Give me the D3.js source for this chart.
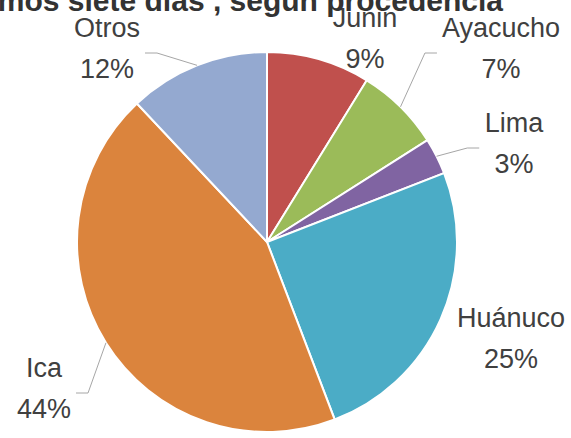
<!DOCTYPE html>
<html>
<head>
<meta charset="utf-8">
<script src="https://cdn.jsdelivr.net/npm/d3@7"></script>
<style>
  body { margin: 0; background: #fff; }
  svg { display: block; }
</style>
</head>
<body>
<div id="chart"></div>
<script>
const categories = ["Junin", "Ayacucho", "Lima", "Huánuco", "Ica", "Otros"];
const values = [8.8, 7.2, 3.1, 25.1, 43.8, 12.0];
const colors = ["#C0504D", "#9BBB59", "#8064A2", "#4BACC6", "#DB843D", "#94A9D0"];
const title = "Casos notificados en los últimos siete días , según procedencia";

// label placement (text centre x, first baseline y, which side the leader leaves from)
const labelLayout = {
    "Junin":    { x: 365, y: 27,  leader: null },
    "Ayacucho": { x: 501, y: 37,  leader: "left" },
    "Lima":     { x: 514, y: 132, leader: "left" },
    "Huánuco":  { x: 511, y: 327, leader: null },
    "Ica":      { x: 44,  y: 377, leader: "right" },
    "Otros":    { x: 107, y: 37,  leader: "right" }
};

const width = 571, height = 438;
const cx = 267, cy = 242, radius = 190;

const svg = d3.select("#chart")
    .append("svg")
    .attr("width", width)
    .attr("height", height);

const data = categories.map((c, i) => ({ name: c, value: values[i], color: colors[i] }));
const total = d3.sum(values);

const pie = d3.pie()
    .value(d => d.value)
    .sort(null);

const arc = d3.arc()
    .innerRadius(0)
    .outerRadius(radius);

const arcs = pie(data);

const g = svg.append("g")
    .attr("transform", `translate(${cx},${cy})`);

g.selectAll("path")
    .data(arcs)
    .enter()
    .append("path")
    .attr("d", arc)
    .attr("fill", d => d.data.color)
    .attr("stroke", "#fff")
    .attr("stroke-width", 2);

const leaders = svg.append("g");

const fmt = v => Math.round(v / total * 100) + "%";

const labels = svg.selectAll("text.label")
    .data(arcs)
    .enter()
    .append("text")
    .attr("class", "label")
    .attr("text-anchor", "middle")
    .attr("font-family", "Liberation Sans, Arial, sans-serif")
    .attr("font-size", "27px")
    .attr("fill", "#404040");

labels.append("tspan")
    .attr("x", d => labelLayout[d.data.name].x)
    .attr("y", d => labelLayout[d.data.name].y)
    .text(d => d.data.name);

labels.append("tspan")
    .attr("x", d => labelLayout[d.data.name].x)
    .attr("y", d => labelLayout[d.data.name].y + 41)
    .text(d => fmt(d.data.value));

// leader lines: short horizontal from the label, then to the slice edge at mid angle
labels.each(function (d) {
    const lay = labelLayout[d.data.name];
    if (!lay.leader) return;
    const half = this.getBBox().width / 2 + 5;
    const mid = (d.startAngle + d.endAngle) / 2;
    const px = cx + Math.sin(mid) * radius;
    const py = cy - Math.cos(mid) * radius;
    const ly = lay.y + 16;
    const edge = lay.leader === "left" ? lay.x - half : lay.x + half;
    const elbow = lay.leader === "left" ? edge - 12 : edge + 12;
    leaders.append("path")
        .attr("d", d3.line()([[edge, ly], [elbow, ly], [px, py]]))
        .attr("fill", "none")
        .attr("stroke", "#A6A6A6")
        .attr("stroke-width", 1);
});

// title, clipped at the top like the reference
svg.append("text")
    .attr("x", 503)
    .attr("y", 11)
    .attr("text-anchor", "end")
    .attr("font-family", "Liberation Sans, Arial, sans-serif")
    .attr("font-weight", "bold")
    .attr("font-size", "30px")
    .attr("fill", "#333333")
    .text(title);
</script>
</body>
</html>
